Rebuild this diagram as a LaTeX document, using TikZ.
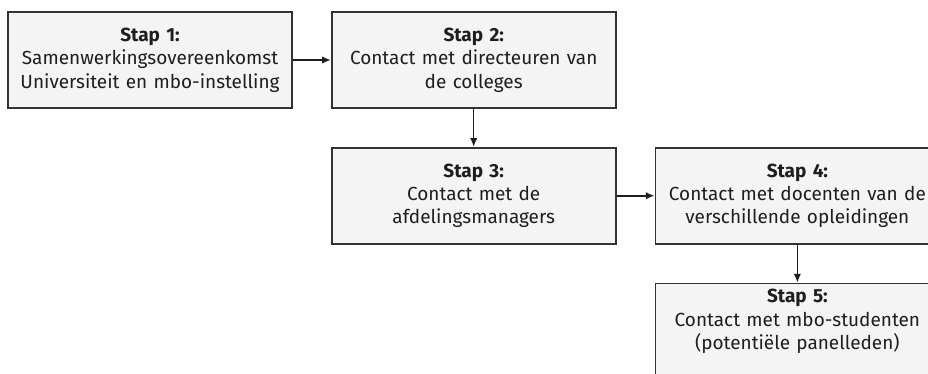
\documentclass[tikz,border=0pt]{standalone}
\usepackage{fontspec}
\setmainfont{Fira Sans}
\usetikzlibrary{arrows.meta, positioning}
\definecolor{boxfill}{HTML}{F4F4F4}
\definecolor{boxline}{HTML}{333333}
\definecolor{inkt}{HTML}{1E1E1E}
\tikzset{
    stap/.style = {rectangle, minimum width=5.68cm, minimum height=1.92cm, text width=5.3cm, align=center, draw=boxline, fill=boxfill, line width=1pt, text=inkt},
    arrow/.style = {line width=0.9pt, draw=inkt, ->, >={Latex[length=5pt, width=4.2pt]}}
}

\begin{document}
\begin{tikzpicture}[x=0.02cm, y=0.02cm, node distance=0.76cm, font=\fontsize{10.8}{13.3}\selectfont]

\clip (0,0) rectangle (928,-373);

% --- STAPPEN ---
\node (stap1) [stap] at (150,-60) {\textbf{Stap 1:}\\Samenwerkingsovereenkomst\\Universiteit en mbo-instelling};
\node (stap2) [stap, right=of stap1] {\textbf{Stap 2:}\\Contact met directeuren van\\de colleges};
\node (stap3) [stap, below=of stap2] {\textbf{Stap 3:}\\Contact met de\\afdelingsmanagers};
\node (stap4) [stap, right=of stap3] {\textbf{Stap 4:}\\Contact met docenten van de\\verschillende opleidingen};
\node (stap5) [stap, below=of stap4, minimum height=0pt, text depth=2cm] {\textbf{Stap 5:}\\Contact met mbo-studenten\\(potentiële panelleden)};

% --- VERBINDINGEN ---
\draw [arrow] (stap1) -- (stap2);
\draw [arrow] (stap2) -- (stap3);
\draw [arrow] (stap3) -- (stap4);
\draw [arrow] (stap4) -- (stap5);

\end{tikzpicture}
\end{document}
